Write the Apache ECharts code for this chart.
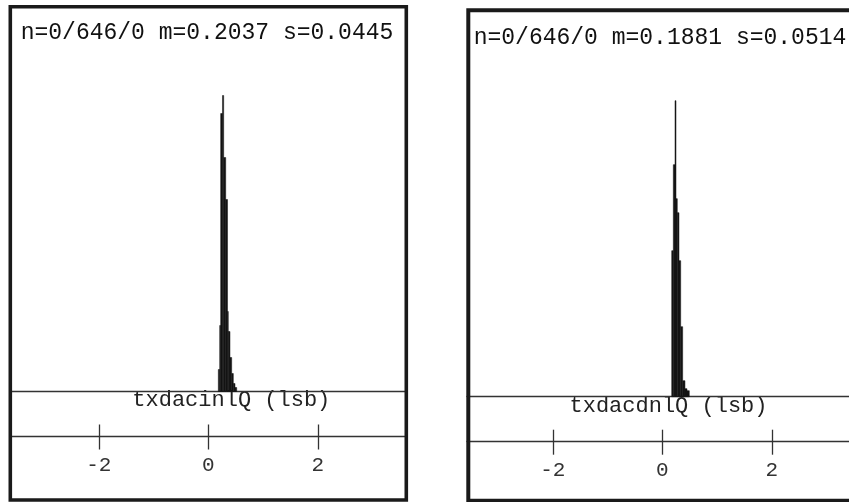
<!DOCTYPE html>
<html>
<head>
<meta charset="utf-8">
<script src="https://cdn.jsdelivr.net/npm/echarts@6/dist/echarts.min.js"></script>
<style>
  html, body { margin: 0; padding: 0; background: #fff; }
  #chart { width: 849px; height: 502px; }
</style>
</head>
<body>
<div id="chart"></div>
<script>
  // tick labels shown under each histogram
  var xTicks = [-2, 0, 2];

  // left panel: txdacinlQ
  var leftTitle = 'n=0/646/0 m=0.2037 s=0.0445';
  var leftName = 'txdacinlQ (lsb)';
  var leftEdges = [0.183, 0.208, 0.226, 0.259, 0.281, 0.318, 0.351, 0.365, 0.396, 0.427, 0.457, 0.488, 0.519];
  var leftCounts = [11, 33, 139, 148, 117, 96, 40, 30, 17, 9, 4, 2];

  // right panel: txdacdnlQ (its right side is cut off by the picture edge)
  var rightTitle = 'n=0/646/0 m=0.1881 s=0.0514';
  var rightName = 'txdacdnlQ (lsb)';
  var rightEdges = [0.172, 0.201, 0.232, 0.250, 0.274, 0.305, 0.336, 0.372, 0.414, 0.451, 0.493];
  var rightCounts = [73, 116, 148, 99, 92, 68, 35, 8, 4, 3];

  var monoFont = '"Liberation Mono", "DejaVu Sans Mono", monospace';

  function toBins(edges, counts) {
    return counts.map(function (c, i) {
      return [edges[i], edges[i + 1], c];
    });
  }

  function renderBin(params, api) {
    var p0 = api.coord([api.value(0), 0]);
    var p1 = api.coord([api.value(1), api.value(2)]);
    return {
      type: 'rect',
      shape: { x: p0[0], y: p1[1], width: p1[0] - p0[0], height: p0[1] - p1[1] },
      style: { fill: '#141414', stroke: '#141414', lineWidth: 0.5 }
    };
  }

  function baseAxis(gridIndex, min, max, name, namePad) {
    return {
      type: 'value', gridIndex: gridIndex, min: min, max: max,
      position: 'bottom',
      axisLine: { show: true, onZero: false, lineStyle: { color: '#333', width: 1.3 } },
      axisTick: { show: false },
      axisLabel: { show: false },
      splitLine: { show: false },
      name: name,
      nameLocation: 'middle',
      nameGap: -2,
      nameTextStyle: { fontFamily: monoFont, fontSize: 22, color: '#222', padding: namePad }
    };
  }

  function tickAxis(gridIndex, min, max, inside) {
    return {
      type: 'value', gridIndex: gridIndex, min: min, max: max,
      position: 'bottom', offset: 45,
      axisLine: { show: !inside, onZero: false, lineStyle: { color: '#333', width: 1.3 } },
      axisTick: {
        show: true, inside: inside, length: inside ? 12 : 13,
        customValues: xTicks,
        lineStyle: { color: '#333', width: 1.3 }
      },
      axisLabel: {
        show: !inside, customValues: xTicks, margin: 18,
        fontFamily: monoFont, fontSize: 21, color: '#333'
      },
      splitLine: { show: false }
    };
  }

  var chart = echarts.init(document.getElementById('chart'));

  var option = {
    backgroundColor: '#fff',
    animation: false,
    title: [
      {
        text: leftTitle, left: 207, top: 21, textAlign: 'center', padding: 0,
        textStyle: { fontFamily: monoFont, fontSize: 23, fontWeight: 'normal', color: '#111' }
      },
      {
        text: rightTitle, left: 660, top: 26, textAlign: 'center', padding: 0,
        textStyle: { fontFamily: monoFont, fontSize: 23, fontWeight: 'normal', color: '#111' }
      }
    ],
    grid: [
      { left: 11.2, width: 394.2, top: 11.5, height: 380 },
      { left: 467, right: 0, top: 16.7, height: 380 }
    ],
    xAxis: [
      baseAxis(0, -3.6, 3.6, leftName, [0, 0, 0, 46]),
      tickAxis(0, -3.6, 3.6, false),
      tickAxis(0, -3.6, 3.6, true),
      baseAxis(1, -3.567, 3.41, rightName, [0, 0, 0, 21]),
      tickAxis(1, -3.567, 3.41, false),
      tickAxis(1, -3.567, 3.41, true)
    ],
    yAxis: [
      { type: 'value', gridIndex: 0, min: 0, max: 190, show: false },
      { type: 'value', gridIndex: 1, min: 0, max: 190, show: false }
    ],
    series: [
      {
        type: 'custom', xAxisIndex: 0, yAxisIndex: 0,
        renderItem: renderBin,
        encode: { x: [0, 1], y: 2 },
        data: toBins(leftEdges, leftCounts)
      },
      {
        type: 'custom', xAxisIndex: 3, yAxisIndex: 1,
        renderItem: renderBin,
        encode: { x: [0, 1], y: 2 },
        data: toBins(rightEdges, rightCounts)
      }
    ],
    graphic: [
      {
        type: 'rect', silent: true, z: 100,
        shape: { x: 10.3, y: 6.7, width: 396, height: 493.3 },
        style: { fill: 'none', stroke: '#1a1a1a', lineWidth: 3.6 }
      },
      {
        type: 'rect', silent: true, z: 100,
        shape: { x: 468.3, y: 10.3, width: 383.4, height: 490.5 },
        style: { fill: 'none', stroke: '#1a1a1a', lineWidth: 4 }
      }
    ]
  };

  chart.setOption(option);
</script>
</body>
</html>
